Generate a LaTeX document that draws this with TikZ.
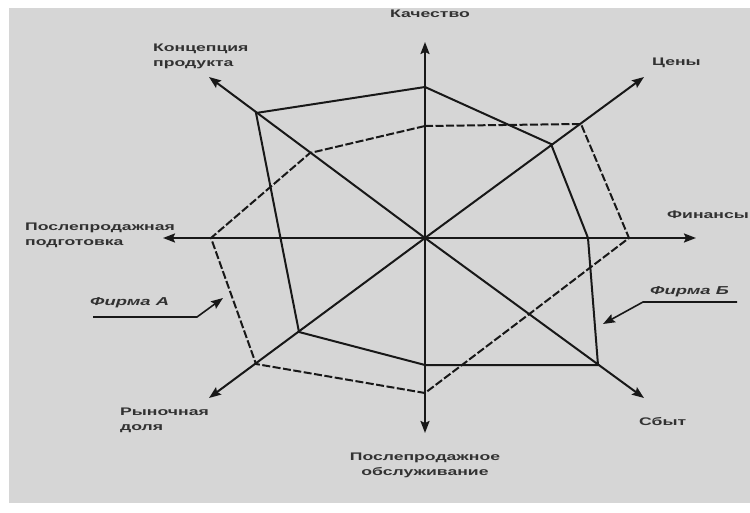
\documentclass[tikz,border=0pt]{standalone}
\usepackage{fontspec}
\setmainfont[FakeStretch=1.6]{Liberation Sans}
\usetikzlibrary{arrows.meta}
\definecolor{bggray}{RGB}{214,214,214}
\definecolor{inkc}{RGB}{24,24,24}
\definecolor{txtc}{RGB}{50,50,50}
\tikzset{
  axisline/.style={draw=inkc, line width=2pt, -{Stealth[length=12pt,width=9pt,inset=2pt]}},
  firmA/.style={draw=inkc, line width=2pt, line join=miter},
  firmB/.style={draw=inkc, line width=2pt, dash pattern=on 8pt off 2.5pt, line join=miter},
  pointer/.style={draw=inkc, line width=1.6pt, -{Stealth[length=12pt,width=9pt,inset=2pt]}},
  lbl/.style={inner sep=0pt, text=txtc, font=\fontsize{11}{15}\selectfont\bfseries, align=left},
  lblc/.style={lbl, align=center},
  firmlbl/.style={inner sep=0pt, text=txtc, font=\fontsize{11.5}{15}\selectfont\bfseries\itshape}
}
\begin{document}
\begin{tikzpicture}[x=1pt,y=-1pt]
\useasboundingbox (0,0) rectangle (750,513);
\fill[white] (0,0) rectangle (750,513);
\fill[bggray] (9,8) rectangle (750,503);
% center and axis tips
\coordinate (O) at (425,238);
\coordinate (tN) at (425,42);
\coordinate (tS) at (425,433);
\coordinate (tW) at (163,238);
\coordinate (tE) at (696,238);
\coordinate (tNW) at (209,77);
\coordinate (tNE) at (644,77);
\coordinate (tSW) at (209,398);
\coordinate (tSE) at (644,398);
% axes
\foreach \t in {tN,tS,tW,tE,tNW,tNE,tSW,tSE} \draw[axisline] (O) -- (\t);
% solid polygon
\coordinate (aN) at (425,87);
\coordinate (aNW) at (256,113);
\coordinate (aW) at (280.5,238);
\coordinate (aSW) at (299,332);
\coordinate (aS) at (425,365);
\coordinate (aSE) at (598,365);
\coordinate (aE) at (588,238);
\coordinate (aNE) at (551,144);
\draw[firmA] (aN) -- (aNE) -- (aE) -- (aSE) -- (aS) -- (aSW) -- (aW) -- (aNW) -- cycle;
% dashed polygon
\coordinate (bN) at (425,126);
\coordinate (bNE) at (581,124);
\coordinate (bE) at (629,238);
\coordinate (bSE) at (528,315);
\coordinate (bS) at (425,393);
\coordinate (bSW) at (256,364);
\coordinate (bW) at (211,238);
\coordinate (bNW) at (310,153);
\draw[firmB] (bN) -- (bNE) -- (bE) -- (bSE) -- (bS) -- (bSW) -- (bW) -- (bNW) -- cycle;
% labels
\node[lblc, anchor=north] (lq) at (430,10) {Качество};
\node[lbl, anchor=north west] (lc) at (153,44) {Концепция\\продукта};
\node[lbl, anchor=north west] (lp) at (652,58) {Цены};
\node[lbl, anchor=north west] (lf) at (667,211) {Финансы};
\node[lbl, anchor=north west] (lpp) at (25,223) {Послепродажная\\подготовка};
\node[lbl, anchor=north west] (lr) at (120,408) {Рыночная\\доля};
\node[lblc, anchor=north] (lpo) at (425,453) {Послепродажное\\обслуживание};
\node[lbl, anchor=north west] (ls) at (639,417) {Сбыт};
% firm labels with pointers
\node[firmlbl, anchor=north west] (fa) at (90,297) {Фирма А};
\node[firmlbl, anchor=north west] (fb) at (650,286) {Фирма Б};
\coordinate (faS) at (93,317);
\coordinate (faK) at (197,317);
\coordinate (faT) at (223,298);
\draw[pointer] (faS) -- (faK) -- (faT);
\coordinate (fbS) at (737,302);
\coordinate (fbK) at (643,302);
\coordinate (fbT) at (603,324);
\draw[pointer] (fbS) -- (fbK) -- (fbT);
\end{tikzpicture}
\end{document}
